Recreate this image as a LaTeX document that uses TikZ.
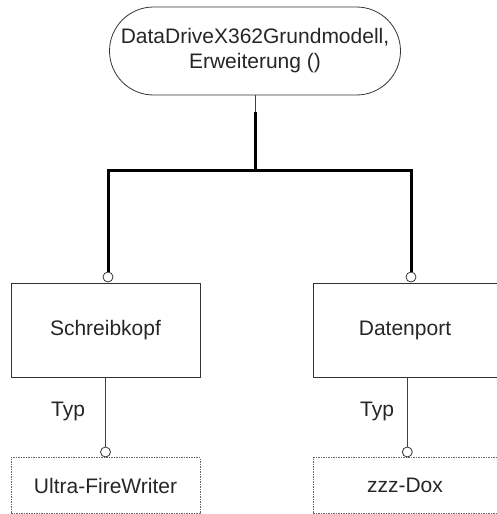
\documentclass[tikz,border=0pt]{standalone}
\usepackage{fontspec}
\setmainfont{Liberation Sans}
\begin{document}
\begin{tikzpicture}[x=1pt,y=-1pt,
  every node/.style={font=\fontsize{21}{25}\selectfont, text=black!85},
  ent/.style={draw=black!80, line width=0.8pt, minimum height=94pt, inner sep=0pt},
  typbox/.style={draw=black!60, line width=0.7pt, dash pattern=on 1.5pt off 1pt, minimum height=56pt, inner sep=0pt},
  ring/.style={circle, draw=black!80, fill=white, line width=0.8pt, minimum size=10pt, inner sep=0pt},
  thickline/.style={line width=3pt, black},
  thinline/.style={line width=1pt, black!75}]
\useasboundingbox (0,0) rectangle (497,514);
\node[draw=black!80, line width=0.8pt, rounded corners=44pt, minimum width=291pt, minimum height=88pt, align=center, inner sep=0pt] (top) at (255,51) {DataDriveX362Grundmodell,\\Erweiterung ()};
\node[ent, minimum width=189pt] (bL) at (105.5,330) {Schreibkopf};
\node[ent, minimum width=184pt] (bR) at (405,330) {Datenport};
\node[typbox, minimum width=189pt] (dL) at (105.5,485.7) {Ultra-FireWriter};
\node[typbox, minimum width=184pt] (dR) at (405,485.7) {zzz-Dox};
\node[ring] (cL) at (108,277) {};
\node[ring] (cR) at (411,277) {};
\node[ring] (tL) at (105.5,452) {};
\node[ring] (tR) at (407.3,452) {};
\coordinate (mid) at (255,112);
\coordinate (hub) at (255,170);
\coordinate (hL) at (108,170);
\coordinate (hR) at (411,170);
\draw[thinline] (top.south) -- (mid);
\draw[thickline] (mid) -- (hub);
\draw[thickline, line join=miter] (cL.north) -- (hL) -- (hR) -- (cR.north);
\draw[thinline, line width=0.8pt] (bL.south) -- (tL.north);
\draw[thinline, line width=0.8pt] (bR.south -| tR) -- (tR.north);
\node (typL) at (68,411) {Typ};
\node (typR) at (377,411) {Typ};
\end{tikzpicture}
\end{document}
